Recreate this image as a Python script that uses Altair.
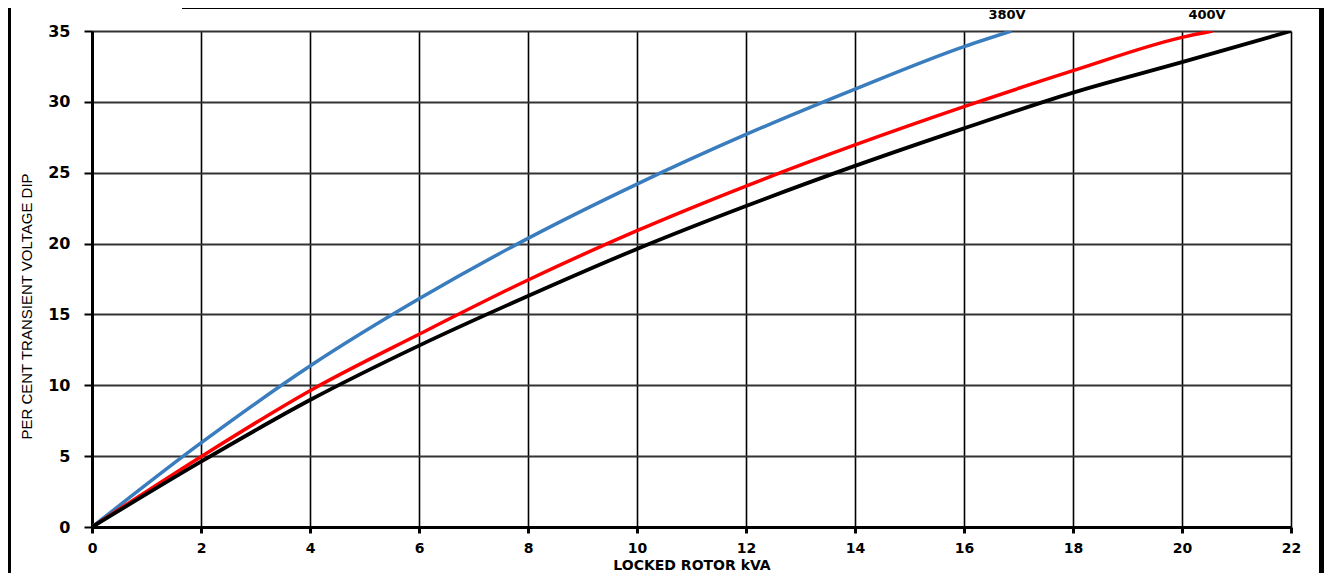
import altair as alt
import pandas as pd

# --- data ---
x_380 = [0, 2, 4, 6, 8, 10, 12, 14, 16, 16.87]
y_380 = [0, 5.93, 11.36, 16.1, 20.37, 24.2, 27.7, 30.9, 33.9, 35]

x_400 = [0, 2, 4, 6, 8, 10, 12, 14, 16, 18, 20, 20.56]
y_400 = [0, 4.96, 9.62, 13.6, 17.43, 20.91, 24.06, 26.96, 29.66, 32.2, 34.55, 35]

x_blk = [0, 2, 4, 6, 8, 10, 12, 14, 16, 18, 20, 22]
y_blk = [0, 4.61, 8.96, 12.8, 16.3, 19.62, 22.65, 25.48, 28.13, 30.65, 32.8, 35]

label_text = ["380V", "400V"]
label_x = [16.79, 20.46]

x_ticks = list(range(0, 23, 2))
y_ticks = list(range(0, 36, 5))

W, H = 1199, 496

xs = alt.Scale(domain=[0, 22], nice=False, zero=False)
ys = alt.Scale(domain=[0, 35], nice=False, zero=False)

xaxis = alt.Axis(values=x_ticks, title="LOCKED ROTOR kVA", grid=True, gridColor="#000000",
                 gridWidth=1.6, domainColor="#000", domainWidth=3, tickColor="#000",
                 tickWidth=3, tickSize=6, labelPadding=8, labelFont="DejaVu Sans",
                 labelFontWeight="bold", labelFontSize=14, labelColor="#000",
                 titleFont="DejaVu Sans", titleFontWeight="bold", titleFontSize=14,
                 titleColor="#000", titleY=42, titleBaseline="alphabetic",
                 labelFlush=False)
yaxis = alt.Axis(values=y_ticks, title="PER CENT TRANSIENT VOLTAGE DIP", grid=True,
                 gridColor="#333333", gridWidth=1.8, domainColor="#000", domainWidth=3,
                 tickColor="#000", tickWidth=2, tickSize=8, labelPadding=14,
                 labelFont="DejaVu Sans", labelFontWeight="bold", labelFontSize=16,
                 labelColor="#000", titleFont="Liberation Sans",
                 titleFontWeight="normal", titleFontSize=15, titleColor="#000",
                 titleX=-66, titleY=275, titleAngle=-90, titleAlign="center",
                 titleBaseline="middle", labelFlush=False)


def series(xv, yv, color, width):
    df = pd.DataFrame({"x": xv, "y": yv})
    return alt.Chart(df).mark_line(color=color, strokeWidth=width, interpolate="monotone",
                                   clip=True).encode(
        x=alt.X("x:Q", scale=xs, axis=xaxis),
        y=alt.Y("y:Q", scale=ys, axis=yaxis),
    )


blue = series(x_380, y_380, "#3a7dbf", 3.5)
red = series(x_400, y_400, "#ff0000", 3.5)
black = series(x_blk, y_blk, "#000000", 3.8)

one = alt.Data(values=[{"a": 1}])
frame_left = alt.Chart(one).mark_rule(color="#000", strokeWidth=3).encode(
    x=alt.value(-82.5), y=alt.value(-23), y2=alt.value(550))
frame_right = alt.Chart(one).mark_rule(color="#000", strokeWidth=5).encode(
    x=alt.value(1229.5), y=alt.value(-23), y2=alt.value(550))
frame_top = alt.Chart(one).mark_rule(color="#000", strokeWidth=2).encode(
    x=alt.value(90), x2=alt.value(1232), y=alt.value(-23))

labels = alt.Chart(pd.DataFrame({"t": label_text, "x": label_x})).mark_text(
    font="DejaVu Sans", fontWeight="bold", fontSize=13, color="#000",
    baseline="alphabetic", align="center"
).encode(x=alt.X("x:Q", scale=xs), y=alt.value(-12.5), text="t:N")

chart = alt.layer(blue, red, black, frame_left, frame_right, frame_top, labels).properties(
    width=W, height=H,
    autosize=alt.AutoSizeParams(type="none"),
    padding={"left": 84, "top": 23, "right": 33, "bottom": 46},
    background="white",
).configure_view(stroke=None)

chart.save("out.html", embed_options={"renderer": "svg", "actions": False})
